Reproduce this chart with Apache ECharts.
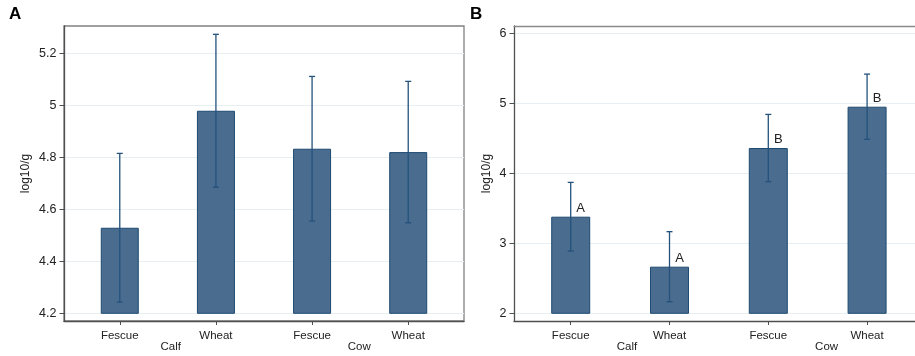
<!DOCTYPE html>
<html>
<head>
<meta charset="utf-8">
<script src="https://cdn.jsdelivr.net/npm/echarts@6/dist/echarts.min.js"></script>
<style>
  html, body { margin: 0; padding: 0; background: #fff; }
  #chart { width: 915px; height: 356px; }
</style>
</head>
<body>
<div id="chart"></div>
<script>
// categories
const categories = ["Fescue", "Wheat", "Fescue", "Wheat"];
const groups = ["Calf", "Cow"];

// panel A
const meanA = [4.529, 4.979, 4.833, 4.82];
const errA = [0.286, 0.294, 0.278, 0.272];
const ticksA = [4.2, 4.4, 4.6, 4.8, 5, 5.2];

// panel B
const meanB = [3.38, 2.666, 4.361, 4.951];
const errB = [0.49, 0.5, 0.48, 0.466];
const ticksB = [2, 3, 4, 5, 6];
const lettersB = ["A", "A", "B", "B"];

const font = "Liberation Sans, Arial, sans-serif";
const textColor = "#222";
const barFill = "#4a6c8e";
const barLine = "#1d4a72";
const axisColor = "#4f4f4f";
const gridColor = "#e6f0f2";
const catIdx = categories.map((c, i) => i);

const chart = echarts.init(document.getElementById("chart"));

function errorBars(mean, err) {
  return mean.map((m, i) => [i, m - err[i], m + err[i]]);
}

function renderErr(params, api) {
  const x = api.value(0);
  const lo = api.coord([x, api.value(1)]);
  const hi = api.coord([x, api.value(2)]);
  const w = 3;
  const style = { stroke: "#24527d", lineWidth: 1.3 };
  return {
    type: "group",
    children: [
      { type: "line", shape: { x1: lo[0], y1: lo[1], x2: hi[0], y2: hi[1] }, style },
      { type: "line", shape: { x1: hi[0] - w, y1: hi[1], x2: hi[0] + w, y2: hi[1] }, style },
      { type: "line", shape: { x1: lo[0] - w, y1: lo[1], x2: lo[0] + w, y2: lo[1] }, style }
    ]
  };
}

// frame grid carries the outer box, the axis lines and the category labels
function frameAxes(gridIndex, xMin, xMax, nameGap) {
  return {
    x: {
      gridIndex: gridIndex,
      type: "value",
      position: "bottom",
      min: xMin,
      max: xMax,
      axisLine: { show: true, onZero: false, lineStyle: { color: axisColor, width: 1.3 } },
      axisTick: { show: true, length: 4, customValues: catIdx, lineStyle: { color: axisColor } },
      axisLabel: {
        show: true,
        customValues: catIdx,
        margin: 8.5,
        fontSize: 11.5,
        color: textColor,
        fontFamily: font,
        formatter: v => categories[Math.round(v)]
      },
      splitLine: { show: false }
    },
    y: {
      gridIndex: gridIndex,
      type: "value",
      position: "left",
      min: 0,
      max: 1,
      name: "log10/g",
      nameLocation: "middle",
      nameGap: nameGap,
      nameTextStyle: { fontSize: 12, color: textColor, fontFamily: font },
      axisLine: { show: true, onZero: false, lineStyle: { color: axisColor, width: 1.3 } },
      axisTick: { show: false },
      axisLabel: { show: false },
      splitLine: { show: false }
    }
  };
}

function dataAxes(gridIndex, xMin, xMax, yMin, yMax, step, ticks, groupPos) {
  return {
    x: {
      gridIndex: gridIndex,
      type: "value",
      position: "bottom",
      min: xMin,
      max: xMax,
      axisLine: { show: false, onZero: false },
      axisTick: { show: false },
      axisLabel: {
        show: true,
        customValues: groupPos,
        margin: 28,
        fontSize: 11.5,
        color: textColor,
        fontFamily: font,
        formatter: v => groups[v < 1.5 ? 0 : 1]
      },
      splitLine: { show: false }
    },
    y: {
      gridIndex: gridIndex,
      type: "value",
      position: "left",
      min: yMin,
      max: yMax,
      interval: step,
      axisLine: { show: false, onZero: false },
      axisTick: { show: true, length: 4.5, customValues: ticks, lineStyle: { color: axisColor } },
      axisLabel: {
        customValues: ticks,
        margin: 7.5,
        fontSize: 12.5,
        color: textColor,
        fontFamily: font
      },
      splitLine: { show: true, lineStyle: { color: gridColor, width: 1 } }
    }
  };
}

const fA = frameAxes(0, -0.58, 3.58, 32);
const dA = dataAxes(1, -0.58, 3.58, 4.2, 5.305, 0.2, ticksA, [0.53, 2.49]);
const fB = frameAxes(2, -0.574, 3.485, 21);
const dB = dataAxes(3, -0.574, 3.485, 2, 6.104, 1, ticksB, [0.57, 2.59]);

// panel B runs off the right edge, so only its top edge is drawn
const topB = {
  gridIndex: 2,
  type: "value",
  position: "top",
  min: 0,
  max: 1,
  axisLine: { show: true, onZero: false, lineStyle: { color: "#8a8a8a", width: 1.3 } },
  axisTick: { show: false },
  axisLabel: { show: false },
  splitLine: { show: false }
};

const option = {
  animation: false,
  backgroundColor: "#fff",
  title: [
    { text: "A", left: 9, top: 6, padding: 0, textStyle: { fontSize: 17, fontWeight: "bold", color: "#000", fontFamily: font } },
    { text: "B", left: 470, top: 6, padding: 0, textStyle: { fontSize: 17, fontWeight: "bold", color: "#000", fontFamily: font } }
  ],
  grid: [
    { left: 64, right: 451, top: 26, bottom: 35, show: true, borderColor: "#808080", borderWidth: 1.3 },
    { left: 64, right: 451, top: 26, bottom: 42.7 },
    { left: 514, right: 0, top: 26, bottom: 35 },
    { left: 514, right: 0, top: 26, bottom: 42.7 }
  ],
  xAxis: [fA.x, dA.x, fB.x, dB.x, topB],
  yAxis: [fA.y, dA.y, fB.y, dB.y],
  series: [
    {
      type: "bar",
      xAxisIndex: 1,
      yAxisIndex: 1,
      barWidth: 38,
      data: meanA.map((v, i) => [i, v]),
      itemStyle: { color: barFill, borderColor: barLine, borderWidth: 1 }
    },
    {
      type: "custom",
      xAxisIndex: 1,
      yAxisIndex: 1,
      data: errorBars(meanA, errA),
      encode: { x: 0, y: [1, 2] },
      renderItem: renderErr,
      z: 5
    },
    {
      type: "bar",
      xAxisIndex: 3,
      yAxisIndex: 3,
      barWidth: 39,
      data: meanB.map((v, i) => [i, v]),
      itemStyle: { color: barFill, borderColor: barLine, borderWidth: 1 },
      label: {
        show: true,
        position: "top",
        distance: 2,
        offset: [10, 0],
        fontSize: 13,
        color: textColor,
        fontFamily: font,
        formatter: p => lettersB[p.dataIndex]
      }
    },
    {
      type: "custom",
      xAxisIndex: 3,
      yAxisIndex: 3,
      data: errorBars(meanB, errB),
      encode: { x: 0, y: [1, 2] },
      renderItem: renderErr,
      z: 5
    }
  ]
};

chart.setOption(option);
</script>
</body>
</html>
